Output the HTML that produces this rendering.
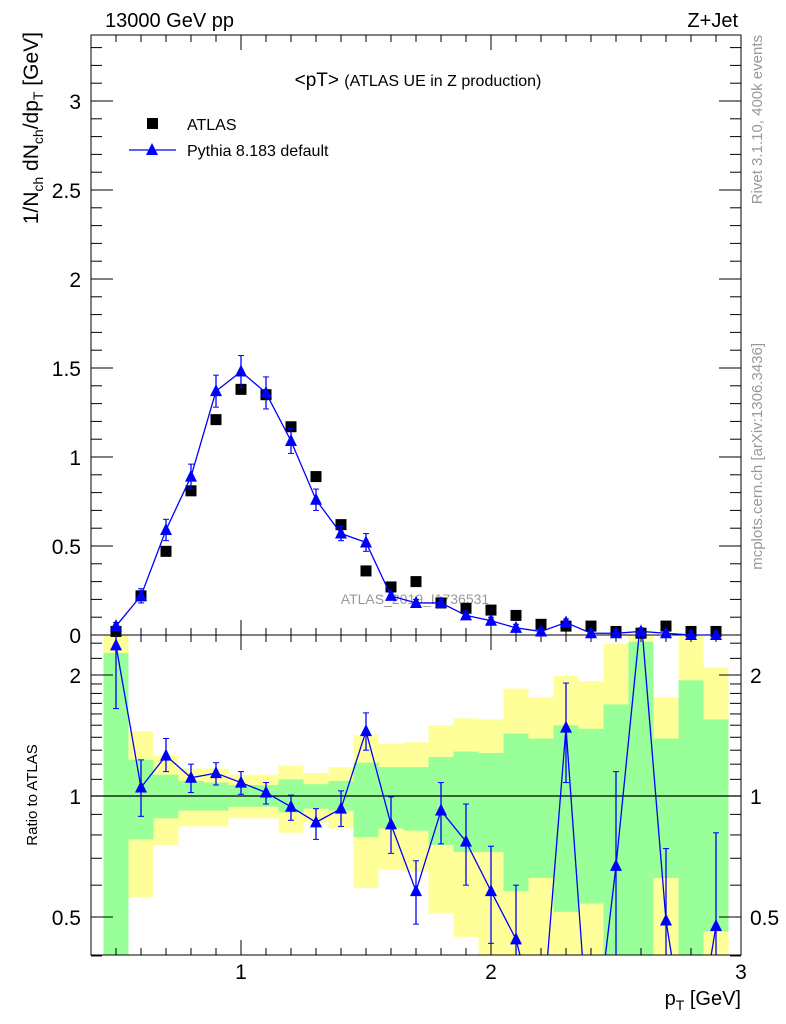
<!DOCTYPE html>
<html><head><meta charset="utf-8"><style>
html,body{margin:0;background:#fff;width:786px;height:1024px;overflow:hidden;position:relative;}
svg{display:block;font-family:"Liberation Sans",Arial,sans-serif;}
</style></head><body>
<svg id="c" width="786" height="1024" viewBox="0 0 786 1024" style="position:absolute;left:0;top:0"></svg>
<script>
const bins=[0.5,0.6,0.7,0.8,0.9,1.0,1.1,1.2,1.3,1.4,1.5,1.6,1.7,1.8,1.9,2.0,2.1,2.2,2.3,2.4,2.5,2.6,2.7,2.8,2.9];
const atlasVals=[0.02,0.22,0.47,0.81,1.21,1.38,1.35,1.17,0.89,0.62,0.36,0.27,0.30,0.18,0.15,0.14,0.11,0.06,0.05,0.05,0.02,0.01,0.05,0.02,0.02];
const pythiaVals=[0.05,0.22,0.59,0.89,1.37,1.48,1.36,1.09,0.76,0.57,0.52,0.22,0.18,0.18,0.11,0.08,0.04,0.02,0.07,0.01,0.01,0.02,0.01,0.0,0.0];
const pythiaErr=[0.02,0.04,0.06,0.07,0.09,0.09,0.09,0.07,0.06,0.04,0.05,0.02,0.02,0.02,0.02,0.02,0.02,0.02,0.02,0.02,0.02,0.02,0.02,0.02,0.02];
const ratioVals=[2.37,1.05,1.26,1.11,1.14,1.08,1.02,0.94,0.86,0.93,1.45,0.85,0.58,0.92,0.77,0.58,0.44,0.25,1.48,0.2,0.67,2.8,0.49,0.2,0.475];
const ratioHi=[3,1.23,1.39,1.2,1.21,1.15,1.08,1.005,0.93,1.03,1.61,0.995,0.69,1.08,0.955,0.75,0.6,0.25,1.91,0.2,1.15,2.8,0.74,0.2,0.81];
const ratioLo=[1.65,0.89,1.15,1.02,1.065,1.01,0.955,0.87,0.78,0.84,1.30,0.72,0.48,0.76,0.60,0.43,0.3,0.25,1.08,0.2,0.3,2.8,0.3,0.2,0.3];
const yellowHi=[3,1.45,1.26,1.17,1.17,1.13,1.13,1.19,1.14,1.18,1.42,1.35,1.36,1.50,1.56,1.55,1.85,1.76,1.99,1.93,2.39,3,1.76,3,2.09];
const greenHi=[2.27,1.23,1.13,1.09,1.08,1.065,1.065,1.10,1.07,1.09,1.21,1.18,1.18,1.25,1.29,1.28,1.43,1.39,1.50,1.47,1.69,2.42,1.39,1.94,1.55];
const greenLo=[0.3,0.78,0.88,0.92,0.92,0.94,0.94,0.91,0.93,0.92,0.79,0.83,0.82,0.755,0.725,0.725,0.58,0.625,0.515,0.54,0.3,0.3,0.625,0.3,0.46];
const yellowLo=[0.3,0.56,0.755,0.84,0.84,0.88,0.88,0.81,0.86,0.83,0.59,0.655,0.647,0.51,0.446,0.3,0.3,0.3,0.3,0.3,0.3,0.3,0.3,0.3,0.3];
const yTicksMain=[0,0.5,1,1.5,2,2.5,3];
const yTickLabels=["0","0.5","1","1.5","2","2.5","3"];
const xTicks=[1,2,3];
const ratioTicks=[0.5,1,2];

const L=91,R=741,T=35,MB=635,B=955;
const X=v=>L+(v-0.4)*250;
const Y=v=>MB-v*178;
const RY=v=>796-121*Math.log2(v);
const clipR=y=>Math.max(MB,Math.min(B,y));
const svg=document.getElementById('c');
const NS='http://www.w3.org/2000/svg';
function el(tag,attrs,parent){const e=document.createElementNS(NS,tag);for(const k in attrs)e.setAttribute(k,attrs[k]);(parent||svg).appendChild(e);return e;}
function txt(s,attrs,parent){const e=el('text',attrs,parent);e.textContent=s;return e;}

const gBands=el('g',{});


bins.forEach((b,i)=>{
  const x0=X(b-0.05),w=250*0.1;
  let y1=clipR(RY(yellowHi[i])),y2=clipR(RY(yellowLo[i]));
  const ry=el('rect',{x:x0,y:y1,width:w,height:y2-y1,fill:'#ffff99'},gBands);
  
  
  y1=clipR(RY(greenHi[i]));y2=clipR(RY(greenLo[i]));
  const rg=el('rect',{x:x0,y:y1,width:w,height:y2-y1,fill:'#99ff99'},gBands);
  
  
});

const f1=el('rect',{x:L,y:T,width:R-L,height:MB-T,fill:'none',stroke:'#000','stroke-width':1});

const f2=el('rect',{x:L,y:MB,width:R-L,height:B-MB,fill:'none',stroke:'#000','stroke-width':1});

el('line',{x1:L,x2:R,y1:RY(1),y2:RY(1),stroke:'#000','stroke-width':1.2});

const gx=el('g',{stroke:'#000','stroke-width':1});

for(let k=5;k<=29;k++){const v=k/10,x=X(v),maj=(k%10===0),len=maj?15:7;
  [[T,1],[MB,-1],[MB,1],[B,-1]].forEach(([y,d])=>el('line',{x1:x,x2:x,y1:y,y2:y+d*len},gx));}
xTicks.forEach(v=>{const t=txt(String(v),{x:X(v),y:979,'font-size':21,'text-anchor':'middle'});
  });

const gy=el('g',{stroke:'#000','stroke-width':1});

for(let k=0;k<=33;k++){const v=k/10,y=Y(v),maj=(k%5===0),len=maj?22:11;
  el('line',{x1:L,x2:L+len,y1:y,y2:y},gy);el('line',{x1:R,x2:R-len,y1:y,y2:y},gy);}
yTicksMain.forEach((v,i)=>{const t=txt(yTickLabels[i],{x:81,y:Y(v)+8,'font-size':21,'text-anchor':'end'});
  });

const rMinor=[0.4,0.6,0.7,0.8,0.9,1.1,1.2,1.3,1.4,1.5,1.6,1.7,1.8,1.9,2.2,2.4];
rMinor.forEach(v=>{const y=RY(v);el('line',{x1:L,x2:L+11,y1:y,y2:y},gy);el('line',{x1:R,x2:R-11,y1:y,y2:y},gy);});
ratioTicks.forEach(v=>{const y=RY(v);el('line',{x1:L,x2:L+22,y1:y,y2:y},gy);el('line',{x1:R,x2:R-22,y1:y,y2:y},gy);
  const a=txt(String(v),{x:81,y:y+8,'font-size':21,'text-anchor':'end'});
  
  const b=txt(String(v),{x:750,y:y+8,'font-size':21,'text-anchor':'start'});
  });

const wm=txt('ATLAS_2019_I1736531',{x:415,y:604,'font-size':14,fill:'#999','text-anchor':'middle'});


const ga=el('g',{});

bins.forEach((b,i)=>{const r=el('rect',{x:X(b)-5.5,y:Y(atlasVals[i])-5.5,width:11,height:11,fill:'#000'},ga);
  });

const gp=el('g',{});

const tri=(x,y,p)=>el('polygon',{points:`${x},${y-7} ${x-6},${y+5} ${x+6},${y+5}`,fill:'#0000ff'},p);
el('polyline',{points:bins.map((b,i)=>X(b)+','+Y(pythiaVals[i])).join(' '),fill:'none',stroke:'#0000ff','stroke-width':1.3},gp);
bins.forEach((b,i)=>{const x=X(b),y1=Y(pythiaVals[i]+pythiaErr[i]),y2=Y(Math.max(0,pythiaVals[i]-pythiaErr[i]));
  el('line',{x1:x,x2:x,y1:y1,y2:y2,stroke:'#0000ff','stroke-width':1.3},gp);
  el('line',{x1:x-3,x2:x+3,y1:y1,y2:y1,stroke:'#0000ff'},gp);el('line',{x1:x-3,x2:x+3,y1:y2,y2:y2,stroke:'#0000ff'},gp);
  const t=tri(x,Y(pythiaVals[i]),gp);});

const cp=el('clipPath',{id:'rc'});
el('rect',{x:L,y:MB,width:R-L,height:B-MB},cp);
const gr=el('g',{'clip-path':'url(#rc)'});

el('polyline',{points:bins.map((b,i)=>X(b)+','+RY(ratioVals[i])).join(' '),fill:'none',stroke:'#0000ff','stroke-width':1.3},gr);
bins.forEach((b,i)=>{const x=X(b),y1=RY(ratioHi[i]),y2=RY(ratioLo[i]);
  if(y2-y1>1){el('line',{x1:x,x2:x,y1:y1,y2:y2,stroke:'#0000ff','stroke-width':1.3},gr);
  el('line',{x1:x-3,x2:x+3,y1:y1,y2:y1,stroke:'#0000ff'},gr);el('line',{x1:x-3,x2:x+3,y1:y2,y2:y2,stroke:'#0000ff'},gr);}
  const t=tri(x,RY(ratioVals[i]),gr);});
</script>
<svg style="position:absolute;left:0;top:0" width="786" height="1024">
<text x="105" y="27" font-size="20" font-family="Liberation Sans,sans-serif">13000 GeV pp</text>
<text x="738" y="27" font-size="20" text-anchor="end" font-family="Liberation Sans,sans-serif">Z+Jet</text>
<text x="418" y="86" font-size="19" text-anchor="middle" font-family="Liberation Sans,sans-serif">&lt;pT&gt; <tspan font-size="16">(ATLAS UE in Z production)</tspan></text>
<rect x="147" y="118" width="11" height="11" fill="#000"/>
<text x="187" y="130" font-size="16" font-family="Liberation Sans,sans-serif">ATLAS</text>
<line x1="129" x2="176" y1="150" y2="150" stroke="#0000ff" stroke-width="1.3"/>
<polygon points="152,143 146,155 158,155" fill="#0000ff"/>
<text x="187" y="156" font-size="16" font-family="Liberation Sans,sans-serif">Pythia 8.183 default</text>
<text transform="translate(38,32) rotate(-90)" font-size="21" text-anchor="end" font-family="Liberation Sans,sans-serif">1/N<tspan font-size="14" dy="5">ch</tspan><tspan dy="-5"> dN</tspan><tspan font-size="14" dy="5">ch</tspan><tspan dy="-5">/dp</tspan><tspan font-size="14" dy="5">T</tspan><tspan dy="-5"> [GeV]</tspan></text>
<text transform="translate(37,795) rotate(-90)" font-size="15" text-anchor="middle" font-family="Liberation Sans,sans-serif">Ratio to ATLAS</text>
<text x="741" y="1005" font-size="20" text-anchor="end" font-family="Liberation Sans,sans-serif">p<tspan font-size="14" dy="5">T</tspan><tspan dy="-5"> [GeV]</tspan></text>
<text transform="translate(762,35) rotate(-90)" font-size="15" text-anchor="end" fill="#999" font-family="Liberation Sans,sans-serif">Rivet 3.1.10,  400k events</text>
<text transform="translate(762,343) rotate(-90)" font-size="15" text-anchor="end" fill="#999" font-family="Liberation Sans,sans-serif">mcplots.cern.ch [arXiv:1306.3436]</text>
</svg>
</body></html>
